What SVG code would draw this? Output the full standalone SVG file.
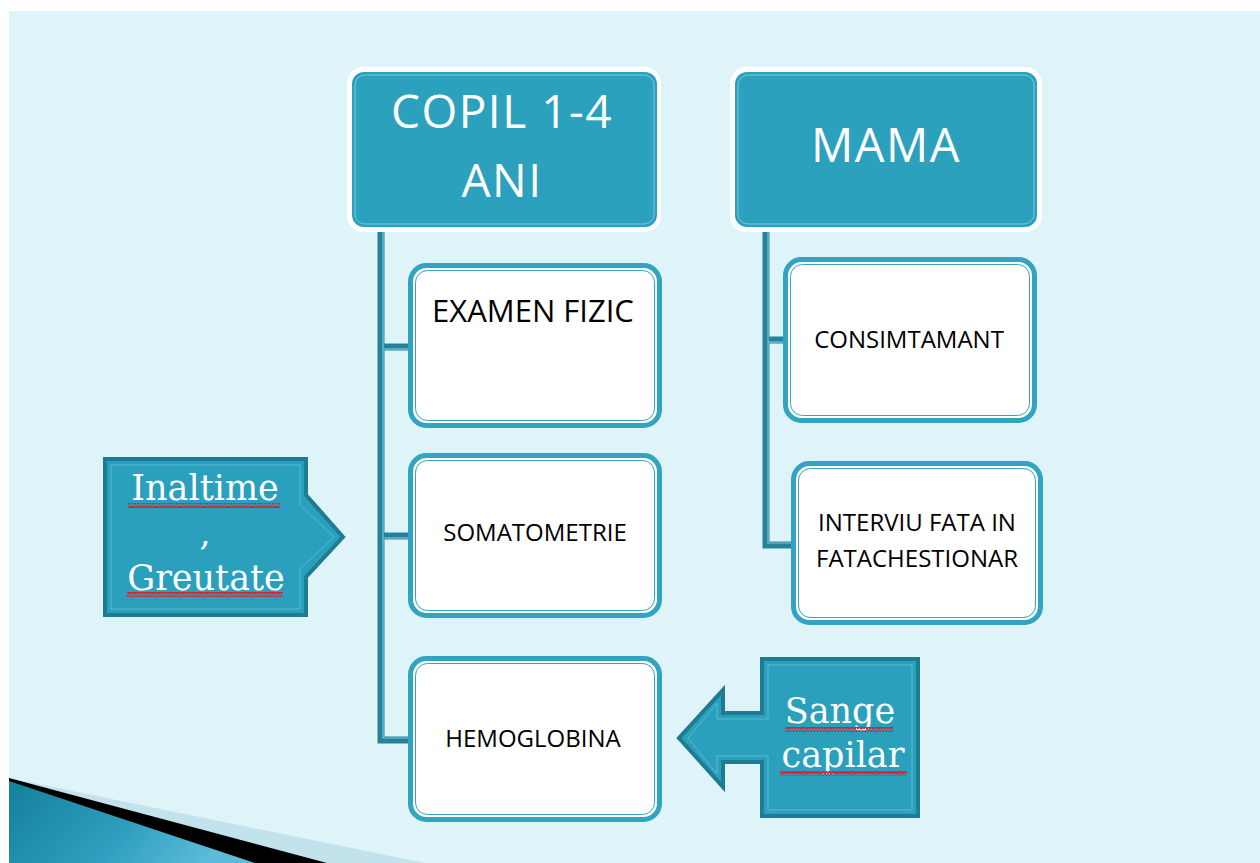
<svg xmlns="http://www.w3.org/2000/svg" width="1260" height="863" viewBox="0 0 1260 863">
  <defs>
    <linearGradient id="swoosh" x1="0" y1="0" x2="1" y2="0.3">
      <stop offset="0" stop-color="#13809b"/>
      <stop offset="0.6" stop-color="#2f9fbf"/>
      <stop offset="1" stop-color="#5bbbd9"/>
    </linearGradient>
    <pattern id="squig" width="6" height="5" patternUnits="userSpaceOnUse">
      <path d="M0,4 L1.5,1 L3,4 L4.5,1 L6,4" fill="none" stroke="#e0202a" stroke-width="1.5"/>
    </pattern>
  </defs>
  <style>
    .hdr-outer { fill: #ffffff; }
    .hdr { fill: #2ca1bd; stroke: #7bc8da; stroke-width: 1; }
    .hdr-text { font-family: "Open Sans", "DejaVu Sans", sans-serif; fill: #ffffff; text-anchor: middle; letter-spacing: 1.5px; }
    .child { fill: #ffffff; stroke: #30a4c0; stroke-width: 5; }
    .child-inner { fill: none; stroke: #30a4c0; stroke-width: 1; }
    .child-text { font-family: "Open Sans", "DejaVu Sans", sans-serif; fill: #000000; text-anchor: middle; }
    .callout { fill: #2ba0bc; stroke: #1f7b91; stroke-width: 4; stroke-linejoin: miter; }
    .callout-inner { fill: none; stroke: #5bbad0; stroke-width: 1; }
    .callout-text { font-family: "DejaVu Serif", "Liberation Serif", serif; fill: #ffffff; text-anchor: middle; }
    .conn { fill: none; stroke: #26829b; stroke-width: 7; stroke-linejoin: miter; }
    .conn-hi { fill: none; stroke: #7cc6d7; stroke-width: 1.2; }
  </style>

  <!-- background -->
  <rect x="0" y="0" width="1260" height="863" fill="#ffffff"/>
  <rect x="9" y="11" width="1251" height="852" fill="#dff4f9"/>

  <!-- bottom-left decoration -->
  <polygon points="9,778 425,863 9,863" fill="#c3e3ec"/>
  <polygon points="9,778 327,863 9,863" fill="#000000"/>
  <polygon points="9,781 255,863 9,863" fill="url(#swoosh)"/>

  <!-- connectors -->
  <g id="connectors">
    <path class="conn" d="M381,228 V740 H410"/>
    <path class="conn" d="M381,347 H410"/>
    <path class="conn" d="M381,536 H410"/>
    <path class="conn-hi" d="M383,228 V738 H410"/>
    <path class="conn-hi" d="M383,349 H410"/>
    <path class="conn-hi" d="M383,538 H410"/>
    <path class="conn" d="M766,228 V545 H792"/>
    <path class="conn" d="M766,340 H785"/>
    <path class="conn-hi" d="M768,228 V543 H792"/>
    <path class="conn-hi" d="M768,342 H785"/>
  </g>

  <!-- header: COPIL 1-4 ANI -->
  <g id="node-copil">
    <rect class="hdr-outer" x="347" y="67" width="314" height="165" rx="16"/>
    <rect x="352" y="72" width="305" height="155" rx="12" fill="#2ca1bd"/>
    <rect class="hdr" x="355" y="75" width="299" height="149" rx="10" fill="none"/>
    <text class="hdr-text" x="502" y="128" font-size="46">COPIL 1-4</text>
    <text class="hdr-text" x="502" y="197" font-size="46">ANI</text>
  </g>

  <!-- header: MAMA -->
  <g id="node-mama">
    <rect class="hdr-outer" x="730" y="67" width="312" height="165" rx="16"/>
    <rect x="735" y="72" width="302" height="155" rx="12" fill="#2ca1bd"/>
    <rect class="hdr" x="738" y="75" width="296" height="149" rx="10" fill="none"/>
    <text class="hdr-text" x="886" y="162" font-size="47">MAMA</text>
  </g>

  <!-- children of COPIL -->
  <g id="node-examen">
    <rect class="child" x="410.5" y="265.5" width="249" height="160" rx="16"/>
    <rect class="child-inner" x="415.5" y="270.5" width="239" height="150" rx="12"/>
    <text class="child-text" x="533" y="322" font-size="31">EXAMEN FIZIC</text>
  </g>

  <g id="node-somatometrie">
    <rect class="child" x="410.5" y="455.5" width="249" height="160" rx="16"/>
    <rect class="child-inner" x="415.5" y="460.5" width="239" height="150" rx="12"/>
    <text class="child-text" x="535" y="541" font-size="24">SOMATOMETRIE</text>
  </g>

  <g id="node-hemoglobina">
    <rect class="child" x="410.5" y="658.5" width="249" height="161" rx="16"/>
    <rect class="child-inner" x="415.5" y="663.5" width="239" height="151" rx="12"/>
    <text class="child-text" x="533" y="747" font-size="24">HEMOGLOBINA</text>
  </g>

  <!-- children of MAMA -->
  <g id="node-consimtamant">
    <rect class="child" x="785.5" y="259.5" width="249" height="161" rx="16"/>
    <rect class="child-inner" x="790.5" y="264.5" width="239" height="151" rx="12"/>
    <text class="child-text" x="909" y="348" font-size="24">CONSIMTAMANT</text>
  </g>

  <g id="node-interviu">
    <rect class="child" x="793.5" y="463.5" width="247" height="159" rx="16"/>
    <rect class="child-inner" x="798.5" y="468.5" width="237" height="149" rx="12"/>
    <text class="child-text" x="917" y="531" font-size="24">INTERVIU FATA IN</text>
    <text class="child-text" x="917" y="567" font-size="24">FATACHESTIONAR</text>
  </g>

  <!-- callout: Inaltime, Greutate -->
  <g id="callout-inaltime">
    <path class="callout" d="M105,459 H306 V495 L343,537 L306,577 V615 H105 Z"/>
    <path class="callout-inner" d="M111,465 H300 V505 L334,537 L300,569 V609 H111 Z"/>
    <text class="callout-text" x="205" y="500" font-size="35">Inaltime</text>
    <rect x="128" y="503" width="152" height="5" fill="url(#squig)"/>
    <text class="callout-text" x="205" y="545" font-size="35">,</text>
    <text class="callout-text" x="206" y="590" font-size="35">Greutate</text>
    <rect x="127" y="592" width="156" height="5" fill="url(#squig)"/>
  </g>

  <!-- callout: Sange capilar -->
  <g id="callout-sange">
    <path class="callout" d="M762,659 H918 V816 H762 V762 H723 V787 L679,738 L723,690 V713 H762 Z"/>
    <path class="callout-inner" d="M768,665 H912 V810 H768 V756 H717 V774 L688,738 L717,703 V719 H768 Z"/>
    <text class="callout-text" x="840" y="723" font-size="35">Sange</text>
    <rect x="785" y="727" width="108" height="5" fill="url(#squig)"/>
    <text class="callout-text" x="843" y="767" font-size="35">capilar</text>
    <rect x="780" y="771" width="127" height="5" fill="url(#squig)"/>
  </g>
</svg>
